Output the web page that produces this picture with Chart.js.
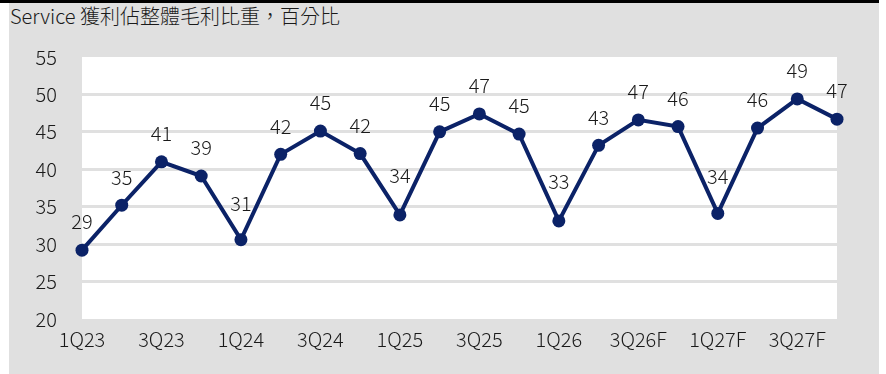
<!DOCTYPE html>
<html>
<head>
<meta charset="utf-8">
<script src="https://cdn.jsdelivr.net/npm/chart.js@4"></script>
<style>
    html, body { margin: 0; padding: 0; background: #ffffff; }
    #frame {
        position: absolute; left: 0; top: 0; width: 879px; height: 374px;
    }
    #topRule {
        position: absolute; left: 0; top: 0; width: 879px; height: 3px; background: #000000;
    }
    #panel {
        position: absolute; left: 9px; top: 3px; width: 870px; height: 371px; background: #e0e0e0;
    }
    #title {
        position: absolute; left: 10px; top: 6px; margin: 0;
        font: 300 20px/20px "Noto Sans CJK TC", sans-serif; color: #1a1a1a; white-space: nowrap;
    }
    #chart { position: absolute; left: 9px; top: 3px; }
</style>
</head>
<body>
<div id="frame">
    <div id="topRule"></div>
    <div id="panel"></div>
    <div id="title">Service 獲利佔整體毛利比重，百分比</div>
    <canvas id="chart" width="870" height="371"></canvas>
</div>

<script>
// 季度
const quarters = [
    "1Q23", "2Q23", "3Q23", "4Q23",
    "1Q24", "2Q24", "3Q24", "4Q24",
    "1Q25", "2Q25", "3Q25", "4Q25",
    "1Q26", "2Q26F", "3Q26F", "4Q26F",
    "1Q27F", "2Q27F", "3Q27F", "4Q27F"
];

// Service 獲利佔整體毛利比重 (%)
const serviceShare = [
    29.2, 35.2, 41.0, 39.1,
    30.6, 42.0, 45.1, 42.1,
    33.9, 45.0, 47.4, 44.7,
    33.1, 43.2, 46.6, 45.7,
    34.1, 45.5, 49.4, 46.7
];

// y 軸刻度
const yMin = 20;
const yMax = 55;
const yStep = 5;

const FONT = "Noto Sans CJK TC";
const NAVY = "#0b2267";
const GRAY = "#e0e0e0";
const INK = "#1a1a1a";

// 低點的數字標籤往上多推一點，避免壓到線
const labelLift = { 4: 35, 8: 39, 12: 39, 16: 36 };

// 畫白色繪圖區底色
const plotBackground = {
    id: "plotBackground",
    beforeDraw(chart) {
        const { ctx, chartArea: a } = chart;
        ctx.save();
        ctx.fillStyle = "#ffffff";
        ctx.fillRect(a.left, a.top, a.right - a.left, a.bottom - a.top);
        ctx.restore();
    }
};

// 資料點上方的數值
const pointLabels = {
    id: "pointLabels",
    afterDatasetsDraw(chart) {
        const { ctx } = chart;
        const meta = chart.getDatasetMeta(0);
        const values = chart.data.datasets[0].data;
        ctx.save();
        ctx.font = `300 20px "${FONT}"`;
        ctx.fillStyle = INK;
        ctx.textAlign = "center";
        ctx.textBaseline = "alphabetic";
        meta.data.forEach((pt, i) => {
            const lift = labelLift[i] || 27.5;
            ctx.fillText(String(Math.round(values[i])), pt.x, pt.y - lift + 6.8);
        });
        ctx.restore();
    }
};

new Chart(document.getElementById("chart").getContext("2d"), {
    type: "line",
    data: {
        labels: quarters,
        datasets: [{
            data: serviceShare,
            borderColor: NAVY,
            backgroundColor: NAVY,
            borderWidth: 4,
            pointRadius: 6.5,
            pointBorderWidth: 0,
            pointBackgroundColor: NAVY,
            tension: 0,
            clip: false
        }]
    },
    options: {
        responsive: false,
        animation: false,
        layout: { padding: { top: 54, right: 42, left: 0, bottom: 0 } },
        plugins: {
            legend: { display: false },
            tooltip: { enabled: false }
        },
        scales: {
            x: {
                offset: false,
                grid: { display: false, drawTicks: false },
                border: { display: false },
                ticks: {
                    autoSkip: false,
                    maxRotation: 0,
                    padding: 8,
                    color: INK,
                    font: { family: FONT, size: 20, weight: 300 },
                    callback: (v, i) => (i % 2 === 0 ? quarters[i] : "")
                },
                afterFit: s => { s.height = 55; }
            },
            y: {
                min: yMin,
                max: yMax,
                grid: {
                    drawTicks: false,
                    lineWidth: 3,
                    color: c => (c.tick.value === yMin || c.tick.value === yMax ? "rgba(0,0,0,0)" : GRAY)
                },
                border: { display: false },
                ticks: {
                    stepSize: yStep,
                    padding: 25,
                    color: INK,
                    font: { family: FONT, size: 20, weight: 300 }
                },
                afterFit: s => { s.width = 73; }
            }
        }
    },
    plugins: [plotBackground, pointLabels]
});
</script>
</body>
</html>
